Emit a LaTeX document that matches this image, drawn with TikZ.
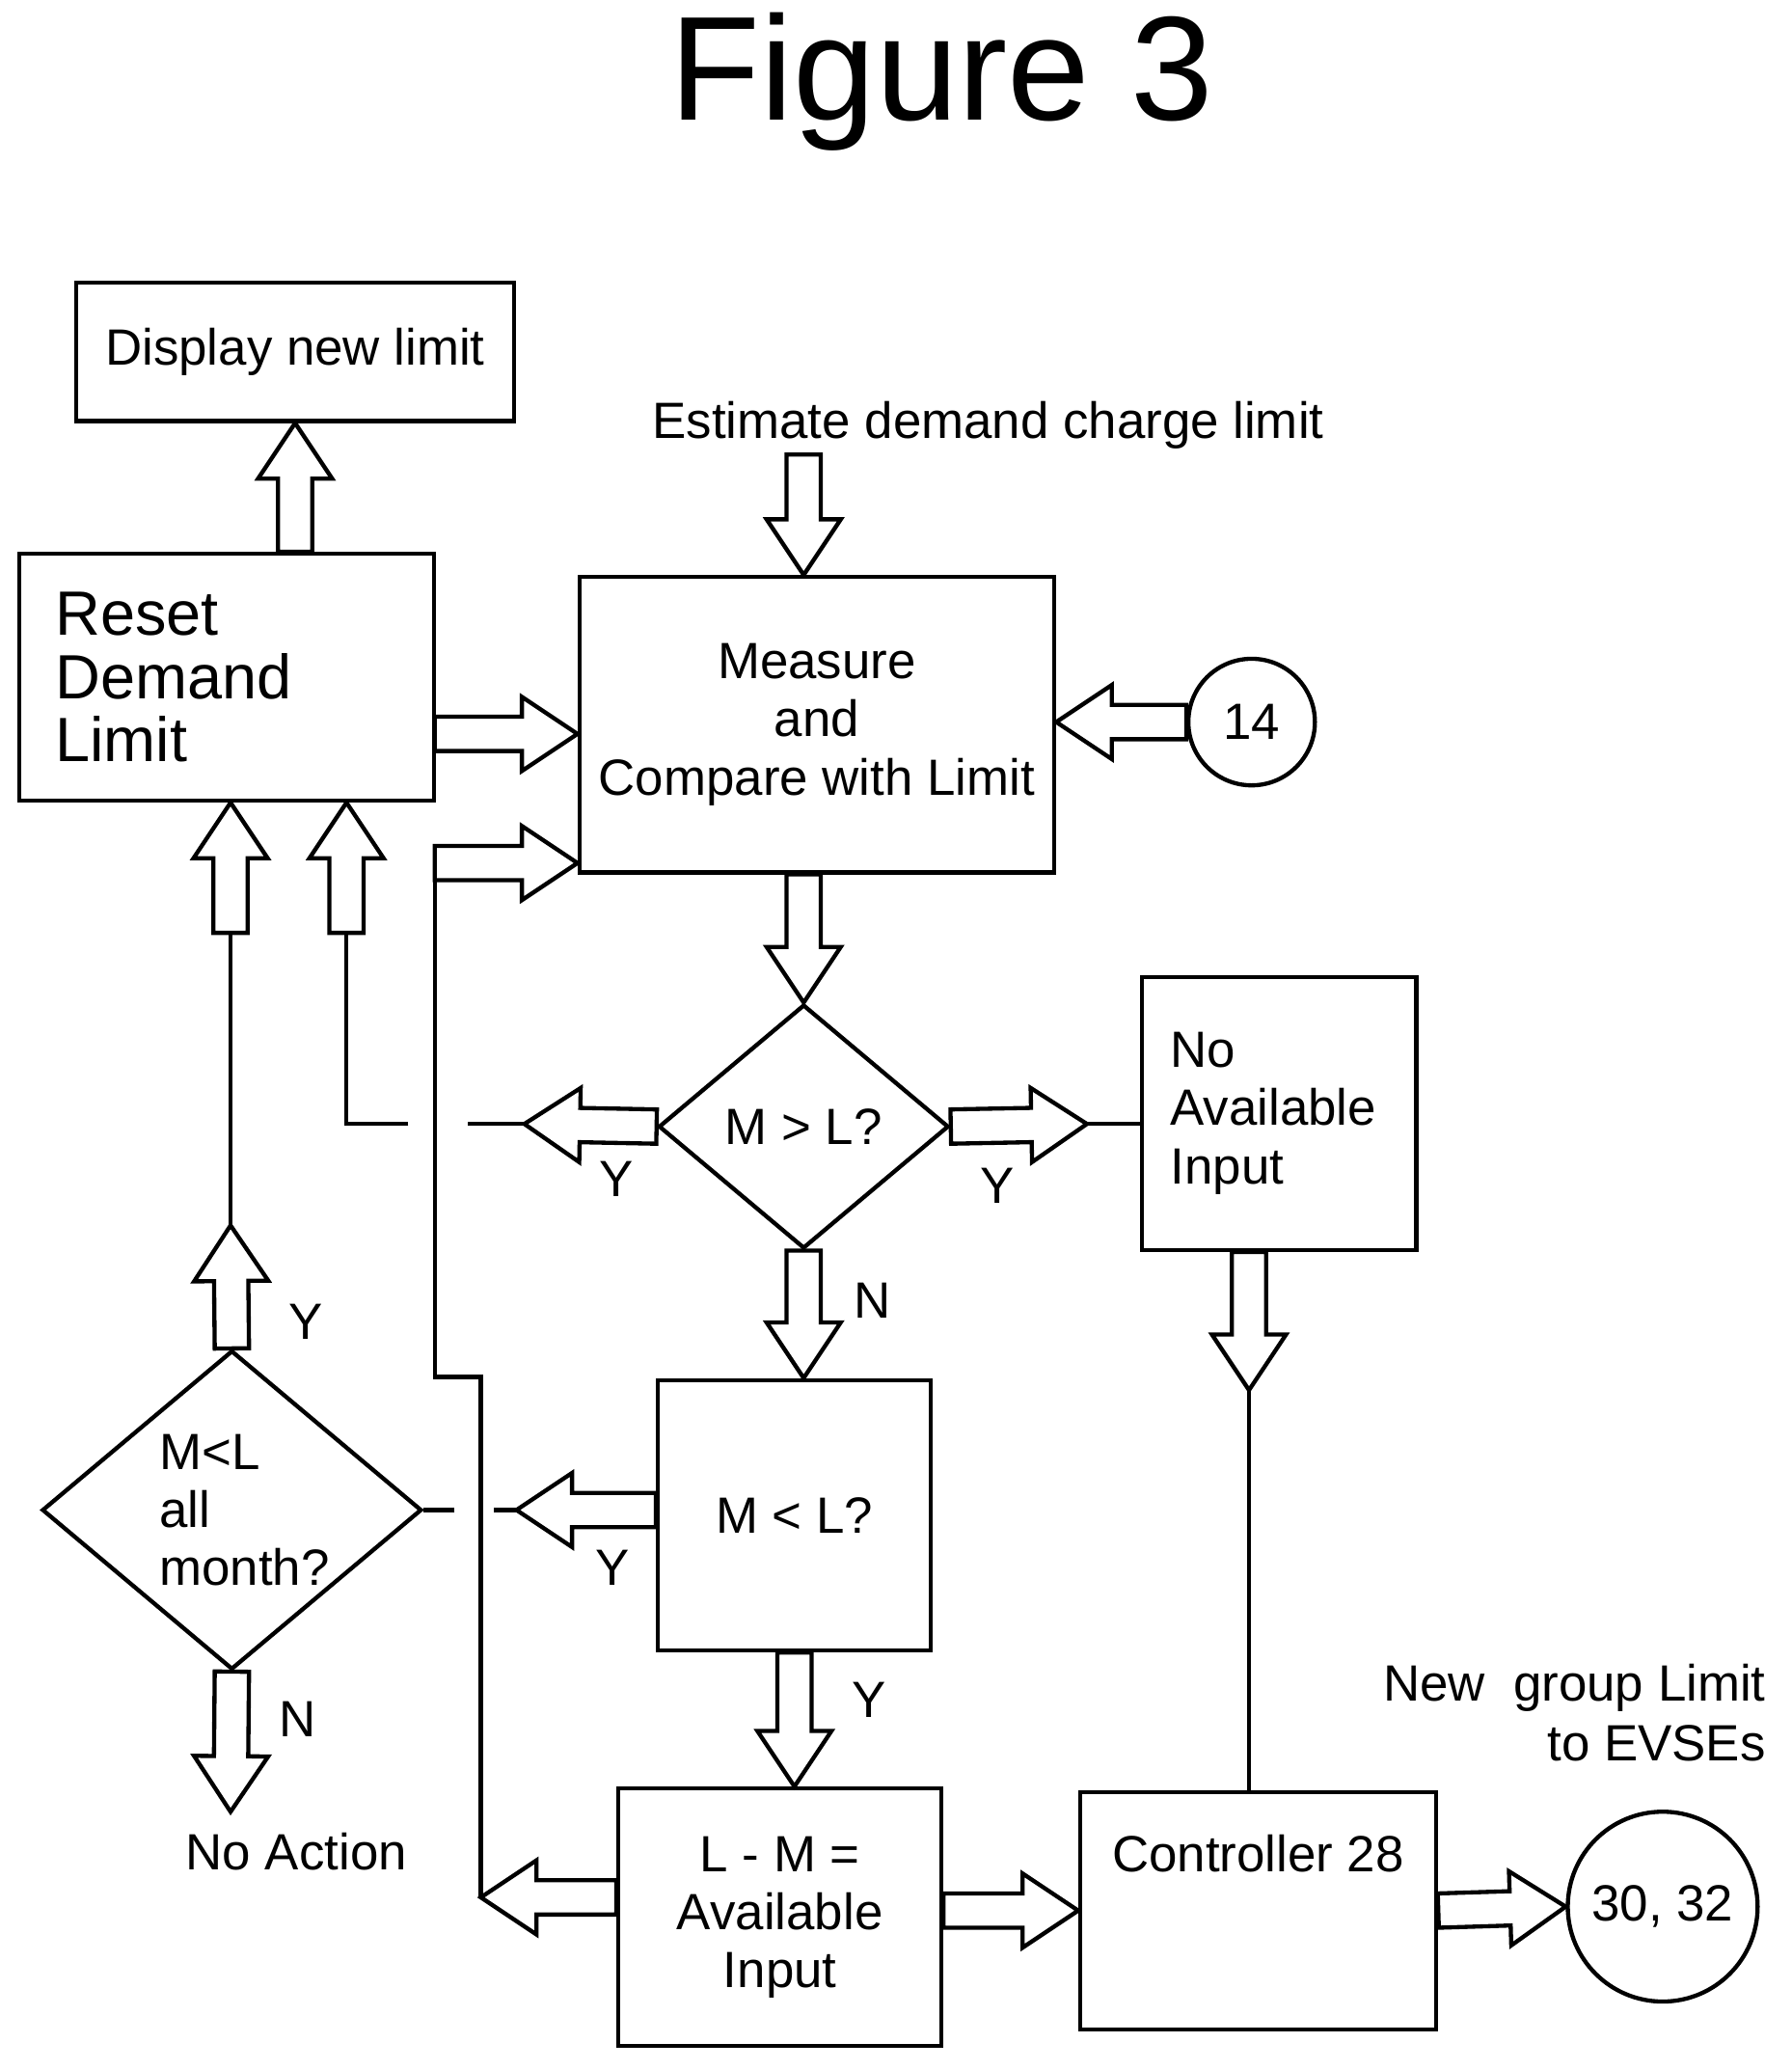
\documentclass[tikz,border=0pt]{standalone}
\usepackage{fontspec}
\setmainfont{Liberation Sans}
\usetikzlibrary{positioning, shapes.geometric, calc}

% hollow block arrow from #1 to #2
\newcommand\blockarrow[2]{%
  \path let \p1=(#1), \p2=(#2), \n1={atan2(\y2-\y1,\x2-\x1)}, \n2={veclen(\x2-\x1,\y2-\y1)} in
    \pgfextra{\xdef\bax{\x1}\xdef\bay{\y1}\xdef\baa{\n1}\xdef\bal{\n2}};
  \draw[line width=0.9pt, line join=miter, fill=white, shift={(\bax,\bay)}, rotate=\baa]
    (0,-3.7pt) -- ({\bal-12pt},-3.7pt) -- ({\bal-12pt},-8pt) -- (\bal,0)
    -- ({\bal-12pt},8pt) -- ({\bal-12pt},3.7pt) -- (0,3.7pt) -- cycle;}

\begin{document}
\begin{tikzpicture}[
    x=0.01cm, y=-0.01cm,
    box/.style={rectangle, draw, line width=0.9pt, font=\fontsize{11}{13}\selectfont, align=center, inner sep=0pt},
    dia/.style={diamond, draw, line width=0.9pt, inner sep=0pt, font=\fontsize{11}{13}\selectfont, align=center},
    circ/.style={circle, draw, line width=0.9pt, inner sep=0pt, font=\fontsize{11}{13}\selectfont},
    txt/.style={font=\fontsize{11}{13}\selectfont, inner sep=1pt},
    thin/.style={line width=0.9pt},
]
\useasboundingbox (0,0) rectangle (1360,1571);

% ============ title ============
\node[font=\fontsize{32}{36}\selectfont] (title) at (715,62) {Figure 3};

% ============ boxes ============
\node[box, minimum width=3.32cm, minimum height=1.05cm] (display) at (224,267) {Display new limit};
\node[txt] (estimate) at (750,323) {Estimate demand charge limit};
\node[box, minimum width=3.15cm, minimum height=1.87cm, text width=2.6cm, align=left,
      font=\fontsize{13.5}{13.6}\selectfont] (reset) at (172,514) {Reset\\Demand\\Limit};
\node[box, minimum width=3.6cm, minimum height=2.24cm, font=\fontsize{11}{12.5}\selectfont] (measure) at (620,550) {Measure\\and\\Compare with Limit};
\node[circ, minimum size=0.96cm] (c14) at (950,548) {14};
\node[dia, minimum width=2.2cm, minimum height=1.85cm] (d1) at (610,855) {M > L?};
\node[box, minimum width=2.08cm, minimum height=2.07cm, text width=1.65cm, align=left,
      font=\fontsize{11}{12.5}\selectfont] (noavail) at (971,845) {No\\Available\\Input};
\node[box, minimum width=2.07cm, minimum height=2.05cm] (mlbox) at (603,1150) {M < L?};
\node[dia, minimum width=2.88cm, minimum height=2.42cm, text width=1.1cm, align=left,
      font=\fontsize{11}{12.5}\selectfont] (d2) at (176,1146) {M<L\\all\\month?};
\node[box, minimum width=2.45cm, minimum height=1.95cm, font=\fontsize{11}{12.5}\selectfont] (lm) at (592,1455) {L - M =\\Available\\Input};
\node[box, minimum width=2.7cm, minimum height=1.8cm,
      label={[txt, anchor=north, yshift=-0.3cm]north:Controller 28}] (ctrl) at (955,1450) {};
\node[circ, minimum size=1.44cm] (c30) at (1262,1447) {30, 32};
\node[txt, align=right] (newlimit) at (1195,1300) {New \ group Limit\\to EVSEs};
\node[txt] (noaction) at (225,1405) {No Action};

% ============ labels ============
\node[txt] (y1) at (468,895) {Y};
\node[txt] (y2) at (757,900) {Y};
\node[txt] (n1) at (662,987) {N};
\node[txt] (y3) at (465,1190) {Y};
\node[txt] (y4) at (660,1290) {Y};
\node[txt] (y5) at (232,1003) {Y};
\node[txt] (n2) at (226,1305) {N};

% ============ coordinates ============
\coordinate (e1) at (610,345);
\coordinate (r1) at (330,557);
\coordinate (a6) at (398,853);
\coordinate (a7) at (825,853);
\coordinate (a9) at (948,1055);
\coordinate (a10) at (392,1146);
\coordinate (a12) at (365,1440);
\coordinate (f1) at (330,655);
\coordinate (a15) at (175,930);
\coordinate (a15b) at (175,708);
\coordinate (a16) at (263,708);
\coordinate (a17) at (175,1375);

% ============ thin lines ============
\draw[thin] (a6) -- (355,853);
\draw[thin] (310,853) -- (263,853) -- (a16);
\draw[thin] (a7) -- (noavail.west |- a7);
\draw[thin] (a9) -- (a9 |- ctrl.north);
\draw[thin] (a10) -- (375,1146);
\draw[thin] (345,1146) -- (d2.east);
\draw[thin] (a12) -- (365,1045) -- (330,1045) -- (330,668);
\draw[thin] (a15) -- (a15b);

% ============ block arrows ============
\blockarrow{display.south |- reset.north}{display.south}
\blockarrow{e1}{e1 |- measure.north}
\blockarrow{r1}{measure.west |- r1}
\blockarrow{c14.west}{measure.east |- c14.west}
\blockarrow{d1.north |- measure.south}{d1.north}
\blockarrow{d1.west}{a6}
\blockarrow{d1.east}{a7}
\blockarrow{d1.south}{d1.south |- mlbox.north}
\blockarrow{a9 |- noavail.south}{a9}
\blockarrow{mlbox.west |- a10}{a10}
\blockarrow{mlbox.south}{mlbox.south |- lm.north}
\blockarrow{lm.west |- a12}{a12}
\blockarrow{f1}{measure.west |- f1}
\blockarrow{lm.east |- ctrl.west}{ctrl.west}
\blockarrow{ctrl.east}{c30.west}
\blockarrow{d2.north}{a15}
\blockarrow{a15b}{a15b |- reset.south}
\blockarrow{a16}{a16 |- reset.south}
\blockarrow{d2.south}{a17}

\end{tikzpicture}
\end{document}
